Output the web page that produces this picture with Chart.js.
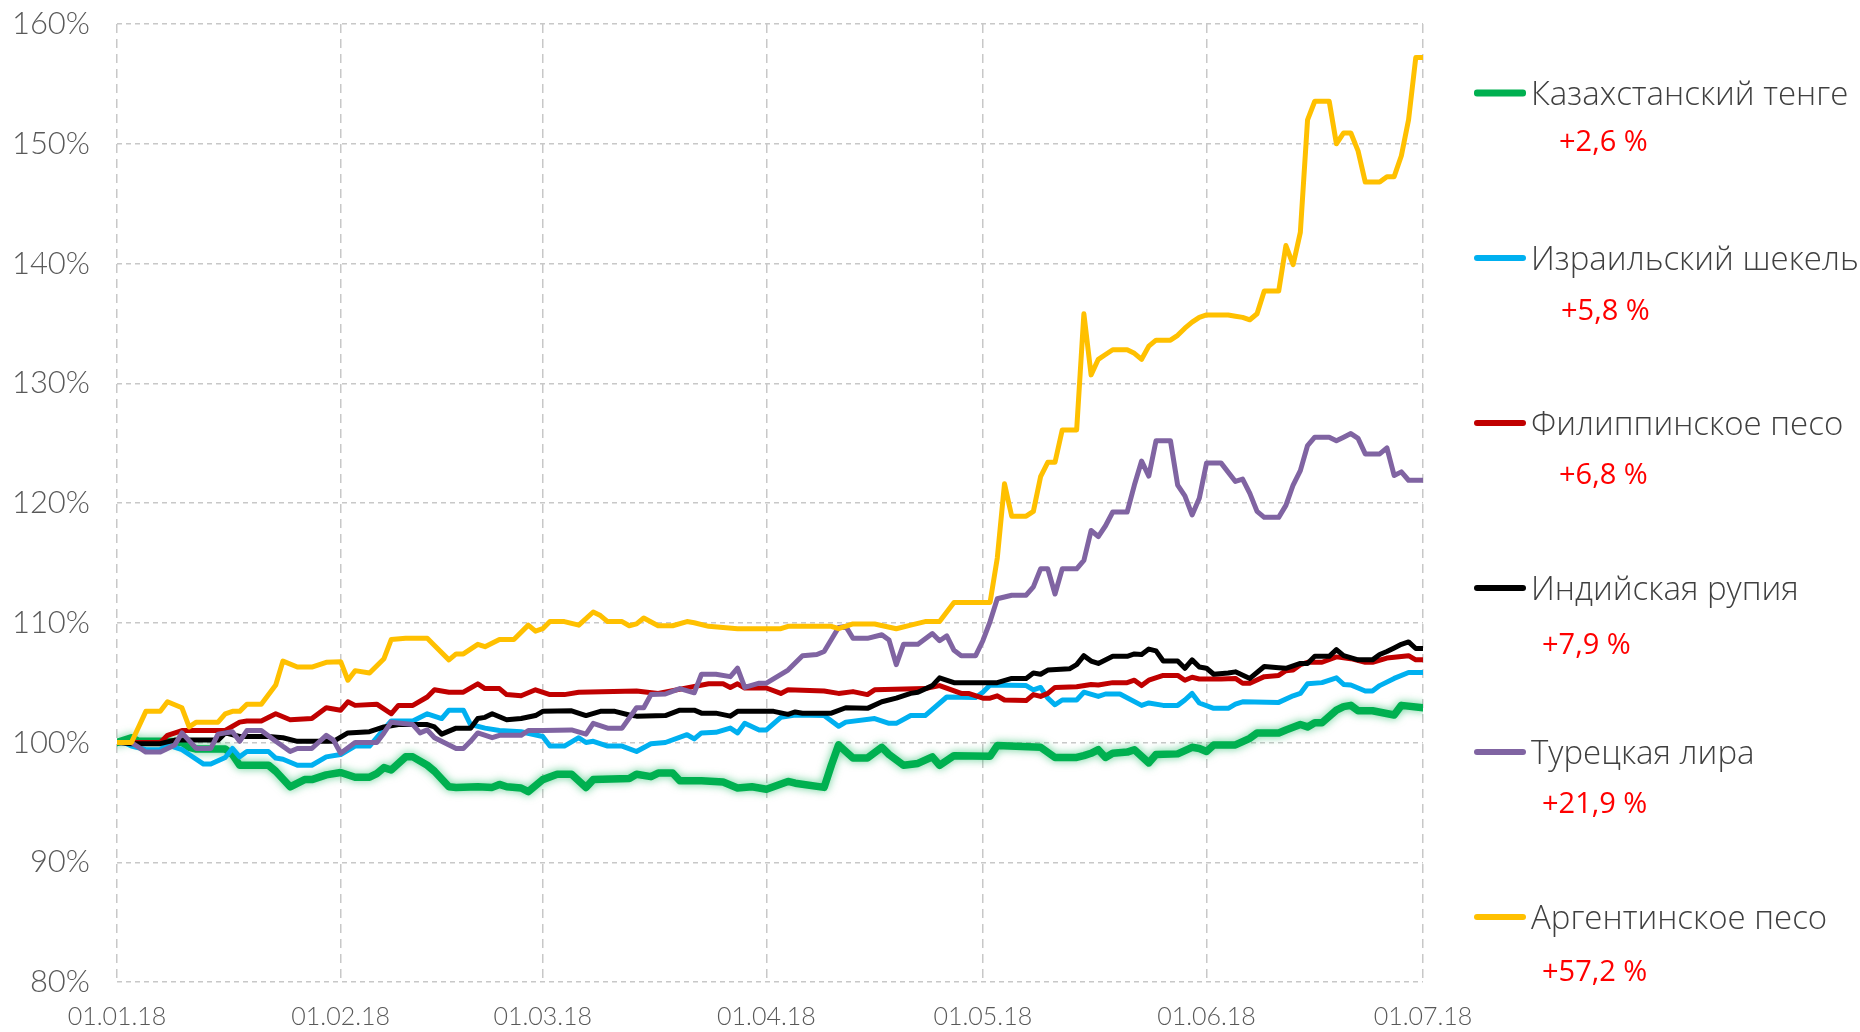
<!DOCTYPE html>
<html>
<head>
<meta charset="utf-8">
<script src="https://cdn.jsdelivr.net/npm/chart.js@4/dist/chart.umd.min.js"></script>
<style>
  body { margin: 0; background: #fff; }
  #wrap { position: relative; width: 1860px; height: 1032px; overflow: hidden; }
  #chart { position: absolute; left: 0; top: 0; }
  .name, .pct { position: absolute; white-space: nowrap; transform: translateY(-50%); font-family: 'Open Sans', sans-serif; }
  .name { left: 1531px; font-size: 33px; font-weight: 300; color: #404040; }
  .pct { font-size: 29px; font-weight: 500; color: #ff0000; }
  .swatch { position: absolute; left: 1474px; width: 52px; height: 6px; border-radius: 3px; transform: translateY(-50%); }
</style>
</head>
<body>
<div id="wrap">
  <canvas id="chart" width="1860" height="1032"></canvas>
  <div id="legend"></div>
</div>
<script>
// days since 01.01.18 where the x axis is labelled
const monthDays = [0, 31, 59, 90, 120, 151, 181];
const tickLabels = ['01.01.18', '01.02.18', '01.03.18', '01.04.18', '01.05.18', '01.06.18', '01.07.18'];

const seriesNames = ['Казахстанский тенге', 'Израильский шекель', 'Филиппинское песо', 'Индийская рупия', 'Турецкая лира', 'Аргентинское песо'];
const seriesChanges = ['+2,6 %', '+5,8 %', '+6,8 %', '+7,9 %', '+21,9 %', '+57,2 %'];
const seriesColors = ['#00b050', '#00b0f0', '#c00000', '#000000', '#8064a2', '#ffc000'];

// [day, % of 01.01.18]
const kzt = [[0,100],[2,100.4],[3,100.1],[7,100.1],[9,100],[10,99.6],[11,99.45],[15,99.45],[16,99],[17,98.1],[21,98.1],[22,97.6],[24,96.3],[26,96.9],[27,96.9],[29,97.3],[31,97.5],[33,97.1],[35,97.1],[36,97.4],[37,97.9],[38,97.7],[40,98.8],[41,98.8],[43,98.1],[44,97.6],[46,96.3],[47,96.25],[50,96.3],[52,96.25],[53,96.5],[54,96.3],[56,96.2],[57,95.9],[59,96.9],[61,97.35],[63,97.35],[65,96.25],[66,96.9],[71,97],[72,97.35],[74,97.15],[75,97.45],[77,97.45],[78,96.8],[81,96.8],[84,96.7],[86,96.2],[88,96.3],[90,96.1],[93,96.75],[94,96.6],[98,96.25],[99,98.1],[100,99.8],[102,98.7],[104,98.7],[106,99.6],[107,99],[109,98.1],[111,98.25],[113,98.8],[114,98.1],[116,98.9],[121,98.85],[122,99.75],[128,99.6],[130,98.75],[133,98.75],[134,98.9],[135,99.1],[136,99.4],[137,98.75],[138,99.1],[140,99.2],[141,99.4],[143,98.3],[144,99],[147,99.05],[149,99.6],[150,99.5],[151,99.25],[152,99.8],[155,99.8],[157,100.35],[158,100.8],[161,100.8],[162,101.05],[164,101.5],[165,101.3],[166,101.65],[167,101.65],[169,102.7],[170,103],[171,103.1],[172,102.65],[174,102.65],[177,102.3],[178,103.1],[181,102.9]];
const ils = [[0,100],[1,100],[2,99.7],[4,99.4],[6,99.4],[7,99.8],[9,99.4],[10,99],[12,98.2],[13,98.2],[15,98.75],[16,99.5],[17,98.8],[18,99.25],[21,99.25],[22,98.7],[23,98.6],[25,98.1],[27,98.1],[29,98.8],[31,99],[33,99.7],[35,99.7],[36,100.4],[38,101.8],[41,101.8],[43,102.4],[45,102],[46,102.7],[48,102.7],[49,101.5],[51,101.2],[53,101],[56,100.9],[59,100.5],[60,99.7],[62,99.7],[64,100.4],[65,100],[66,100.1],[68,99.7],[70,99.7],[72,99.25],[74,99.9],[76,100],[79,100.65],[80,100.3],[81,100.8],[83,100.85],[85,101.2],[86,100.8],[87,101.6],[89,101.05],[90,101.05],[92,102.1],[94,102.3],[98,102.25],[100,101.35],[101,101.7],[105,102],[107,101.6],[108,101.6],[110,102.25],[112,102.25],[115,103.8],[119,103.75],[120,104.2],[121,104.8],[126,104.75],[127,104.4],[128,104.6],[129,103.7],[130,103.15],[131,103.55],[133,103.55],[134,104.2],[136,103.85],[137,104.05],[139,104.05],[142,103.1],[143,103.3],[145,103.1],[147,103.1],[148,103.55],[149,104.1],[150,103.3],[152,102.85],[154,102.85],[155,103.2],[156,103.4],[161,103.35],[163,103.9],[164,104.1],[165,104.9],[167,105],[169,105.4],[170,104.85],[171,104.8],[173,104.3],[174,104.3],[175,104.75],[177,105.35],[179,105.85],[181,105.85]];
const php = [[0,100],[6,100],[7,100.6],[9,101],[15,101],[17,101.7],[18,101.8],[20,101.8],[22,102.4],[24,101.9],[27,102],[29,102.9],[31,102.7],[32,103.4],[33,103.1],[36,103.2],[38,102.4],[39,103.1],[41,103.1],[43,103.8],[44,104.4],[46,104.2],[48,104.2],[50,104.9],[51,104.5],[53,104.5],[54,104],[56,103.9],[58,104.4],[60,104],[62,104],[64,104.2],[72,104.3],[75,104.1],[82,104.9],[84,104.9],[85,104.6],[86,104.9],[87,104.55],[90,104.55],[92,104.1],[93,104.4],[98,104.3],[100,104.1],[102,104.25],[104,104],[105,104.4],[112,104.5],[114,104.75],[117,104.1],[118,104.1],[120,103.7],[121,103.7],[122,103.9],[123,103.55],[126,103.5],[127,104],[128,103.85],[129,104.1],[130,104.6],[133,104.65],[135,104.85],[136,104.8],[138,105],[140,105],[141,105.2],[142,104.75],[143,105.2],[145,105.6],[147,105.6],[148,105.2],[149,105.45],[150,105.3],[153,105.3],[155,105.35],[156,104.95],[157,104.95],[159,105.5],[161,105.6],[162,106],[163,106.05],[164,106.5],[165,106.7],[167,106.7],[169,107.15],[171,107],[173,106.7],[174,106.7],[176,107.05],[179,107.25],[180,106.9],[181,106.9]];
const inr = [[0,100],[2,99.9],[6,99.9],[8,100.2],[14,100.2],[15,100.8],[17,100.5],[21,100.5],[23,100.4],[25,100.1],[30,100.1],[32,100.8],[35,100.9],[37,101.3],[39,101.5],[43,101.5],[44,101.3],[45,100.7],[47,101.2],[49,101.2],[50,102],[51,102.1],[52,102.4],[54,101.9],[56,102],[58,102.25],[59,102.6],[63,102.65],[65,102.25],[67,102.6],[69,102.6],[71,102.3],[72,102.2],[76,102.25],[78,102.7],[80,102.7],[81,102.45],[83,102.45],[85,102.2],[86,102.6],[91,102.6],[93,102.35],[94,102.55],[95,102.45],[99,102.45],[101,102.9],[104,102.85],[106,103.4],[108,103.7],[110,104.1],[111,104.2],[113,104.75],[114,105.4],[116,105],[122,105],[124,105.35],[126,105.35],[127,105.8],[128,105.7],[129,106.05],[132,106.15],[133,106.5],[134,107.25],[135,106.8],[136,106.6],[138,107.2],[140,107.2],[141,107.4],[142,107.35],[143,107.8],[144,107.65],[145,106.8],[147,106.8],[148,106.2],[149,106.9],[150,106.3],[151,106.2],[152,105.7],[154,105.8],[155,105.9],[157,105.35],[159,106.35],[161,106.25],[162,106.2],[164,106.6],[165,106.6],[166,107.2],[168,107.2],[169,107.75],[170,107.25],[172,106.9],[174,106.9],[175,107.35],[176,107.6],[177,107.9],[178,108.2],[179,108.4],[180,107.85],[181,107.85]];
const tryLira = [[0,100],[2,100],[4,99.2],[6,99.2],[8,99.8],[9,100.8],[11,99.5],[13,99.5],[14,100.7],[16,100.9],[17,100.1],[18,101],[20,101],[22,100.1],[24,99.25],[25,99.5],[27,99.5],[29,100.6],[30,100.2],[31,99.1],[33,100],[36,100],[37,100.8],[38,101.7],[41,101.5],[42,100.8],[43,101.05],[44,100.4],[47,99.5],[48,99.5],[49,100.1],[50,100.8],[52,100.4],[53,100.6],[56,100.6],[57,101],[59,101],[63,101.05],[65,100.7],[66,101.6],[68,101.2],[70,101.2],[72,102.9],[73,102.9],[74,104],[76,104.05],[78,104.5],[80,104.15],[81,105.7],[83,105.7],[85,105.5],[86,106.2],[87,104.6],[89,104.95],[90,104.95],[93,106.05],[95,107.25],[97,107.35],[98,107.6],[100,109.6],[101,109.7],[102,108.7],[104,108.7],[106,109],[107,108.55],[108,106.5],[109,108.2],[111,108.2],[113,109.1],[114,108.5],[115,108.9],[116,107.7],[117,107.25],[119,107.25],[120,108.5],[121,110.1],[122,112],[124,112.3],[126,112.3],[127,113],[128,114.5],[129,114.5],[130,112.4],[131,114.5],[133,114.5],[134,115.2],[135,117.7],[136,117.2],[137,118.1],[138,119.25],[140,119.25],[141,121.5],[142,123.5],[143,122.25],[144,125.2],[146,125.2],[147,121.5],[148,120.6],[149,119],[150,120.4],[151,123.35],[153,123.35],[155,121.8],[156,122],[157,120.8],[158,119.3],[159,118.8],[161,118.8],[162,119.8],[163,121.5],[164,122.7],[165,124.8],[166,125.5],[168,125.5],[169,125.2],[170,125.5],[171,125.8],[172,125.4],[173,124.1],[175,124.1],[176,124.6],[177,122.3],[178,122.6],[179,121.9],[181,121.9]];
const ars = [[0,100],[2,100],[4,102.6],[6,102.6],[7,103.4],[9,102.9],[10,101.3],[11,101.7],[14,101.7],[15,102.4],[16,102.6],[17,102.6],[18,103.2],[20,103.2],[22,104.8],[23,106.8],[25,106.3],[27,106.3],[29,106.7],[31,106.75],[32,105.2],[33,106],[35,105.8],[37,107],[38,108.6],[40,108.7],[43,108.7],[44,108.1],[46,106.9],[47,107.4],[48,107.4],[50,108.2],[51,108],[53,108.6],[55,108.6],[57,109.8],[58,109.3],[59,109.5],[60,110.1],[62,110.1],[64,109.8],[66,110.9],[67,110.6],[68,110.1],[70,110.1],[71,109.75],[72,109.9],[73,110.4],[75,109.75],[77,109.75],[79,110.1],[80,110],[82,109.7],[86,109.5],[92,109.5],[93,109.7],[99,109.7],[100,109.5],[102,109.9],[105,109.9],[108,109.5],[110,109.8],[112,110.1],[114,110.1],[116,111.7],[121,111.7],[122,115.4],[123,121.6],[124,118.9],[126,118.9],[127,119.3],[128,122.2],[129,123.4],[130,123.4],[131,126.1],[133,126.1],[134,135.8],[135,130.7],[136,132],[137,132.4],[138,132.8],[140,132.8],[141,132.5],[142,132],[143,133.1],[144,133.6],[146,133.6],[147,134],[148,134.6],[149,135.1],[150,135.5],[151,135.7],[154,135.7],[155,135.6],[156,135.5],[157,135.3],[158,135.8],[159,137.7],[161,137.7],[162,141.5],[163,139.9],[164,142.6],[165,152],[166,153.55],[168,153.55],[169,150],[170,150.9],[171,150.9],[172,149.4],[173,146.8],[175,146.8],[176,147.25],[177,147.25],[178,149],[179,152],[180,157.2],[181,157.2]];

const seriesData = [kzt, ils, php, inr, tryLira, ars];

// soft halo under the tenge line
const glow = {
  id: 'glow',
  beforeDatasetDraw(chart, args) {
    if (args.index !== 0) return;
    const ctx = chart.ctx;
    ctx.save();
    ctx.shadowColor = 'rgba(0, 176, 80, 0.6)';
    ctx.shadowBlur = 9;
  },
  afterDatasetDraw(chart, args) {
    if (args.index === 0) chart.ctx.restore();
  }
};

const datasets = seriesData.map((pts, i) => ({
  label: seriesNames[i],
  data: pts.map(p => ({ x: p[0], y: p[1] })),
  borderColor: seriesColors[i],
  borderWidth: i === 0 ? 7.5 : 5,
  borderJoinStyle: 'round',
  borderCapStyle: 'round',
  pointRadius: 0,
  tension: 0,
  order: seriesData.length - i
}));

const gridStyle = { color: '#c8c8c8', lineWidth: 1.5, drawTicks: false };

new Chart(document.getElementById('chart'), {
  type: 'line',
  data: { datasets },
  plugins: [glow],
  options: {
    responsive: false,
    animation: false,
    layout: { padding: { top: 24, right: 437, bottom: 0, left: 0 } },
    plugins: { legend: { display: false }, tooltip: { enabled: false } },
    scales: {
      x: {
        type: 'linear',
        min: 0,
        max: 181,
        afterBuildTicks: scale => { scale.ticks = monthDays.map(v => ({ value: v })); },
        afterFit: scale => { scale.height = 50; scale.paddingLeft = 0; scale.paddingRight = 0; },
        ticks: {
          autoSkip: false,
          maxRotation: 0,
          padding: 20,
          color: '#595959',
          font: { family: 'Lato', weight: 300, size: 25 },
          callback: v => tickLabels[monthDays.indexOf(v)]
        },
        grid: gridStyle,
        border: { display: false, dash: [9, 6] }
      },
      y: {
        min: 80,
        max: 160,
        afterFit: scale => { scale.width = 117; scale.paddingTop = 0; scale.paddingBottom = 0; },
        ticks: {
          stepSize: 10,
          padding: 27,
          color: '#595959',
          font: { family: 'Lato', weight: 300, size: 31 },
          callback: v => v + '%'
        },
        grid: gridStyle,
        border: { display: false, dash: [5, 4] }
      }
    }
  }
});

// legend at the right, one block per currency
const nameY = [92, 257, 422, 587, 751, 916];
const pctY = [139, 308, 472, 642, 801, 969];
const pctX = [1559, 1561, 1559, 1542, 1542, 1542];
const legend = document.getElementById('legend');
seriesNames.forEach((name, i) => {
  const sw = document.createElement('div');
  sw.className = 'swatch';
  sw.style.top = (nameY[i] + 1) + 'px';
  sw.style.background = seriesColors[i];
  if (i === 0) sw.style.height = '7px';
  legend.appendChild(sw);

  const nm = document.createElement('div');
  nm.className = 'name';
  nm.style.top = nameY[i] + 'px';
  nm.textContent = name;
  legend.appendChild(nm);

  const pc = document.createElement('div');
  pc.className = 'pct';
  pc.style.top = pctY[i] + 'px';
  pc.style.left = pctX[i] + 'px';
  pc.textContent = seriesChanges[i];
  legend.appendChild(pc);
});
</script>
</body>
</html>
